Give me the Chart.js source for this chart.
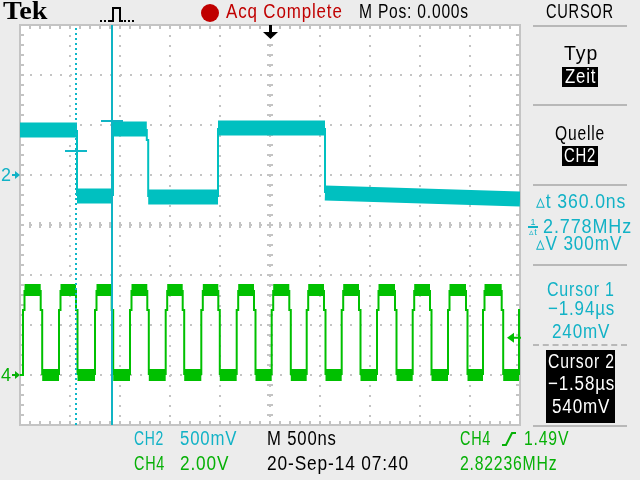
<!DOCTYPE html>
<html>
<head>
<meta charset="utf-8">
<script src="https://cdn.jsdelivr.net/npm/chart.js@4.4.0/dist/chart.umd.min.js"></script>
<style>
  body { margin: 0; background: #ececec; }
  #wrap { position: relative; width: 640px; height: 480px; overflow: hidden; background: #ececec; }
  #scope { position: absolute; left: 0; top: 0; }
  .t { position: absolute; white-space: nowrap; font-family: 'Liberation Sans', sans-serif;
       font-size: 20px; line-height: 20px; letter-spacing: 1px; }
  .cy { color: #12b2c6; }
  .gr { color: #06b006; }
  .rd { color: #c00000; }
  .wh { color: #fff; }
  .sep { position: absolute; left: 533px; width: 94px; height: 2px; background: #b8b8b8; }
  .box { position: absolute; background: #000; }
</style>
</head>
<body>
<div id="wrap">
  <canvas id="scope" width="640" height="480"></canvas>

  <!-- top bar -->
  <div class="t" style="left:3px;top:-2px;font-family:'Liberation Serif',serif;font-weight:bold;font-size:25px;line-height:25px;letter-spacing:0;" data-w="44">Tek</div>
  <svg style="position:absolute;left:98px;top:5px" width="40" height="20">
    <g fill="#000">
      <rect x="2" y="15" width="2" height="2"/><rect x="6" y="15" width="2" height="2"/><rect x="10" y="15" width="2" height="2"/>
      <rect x="26" y="15" width="2" height="2"/><rect x="30" y="15" width="2" height="2"/><rect x="34" y="15" width="2" height="2"/>
    </g>
    <polyline points="12,16 15,16 15,3 22,3 22,16 25,16" fill="none" stroke="#000" stroke-width="2"/>
  </svg>
  <div style="position:absolute;left:201px;top:4px;width:18px;height:18px;border-radius:50%;background:#c00000"></div>
  <div class="t rd" style="left:226px;top:1px" data-w="117">Acq Complete</div>
  <div class="t" style="left:359px;top:1px" data-w="110">M Pos: 0.000s</div>
  <div class="t" style="left:546px;top:1px" data-w="68">CURSOR</div>

  <!-- side menu -->
  <div class="sep" style="top:25px"></div>
  <div class="t" style="left:564px;top:43px" data-w="34">Typ</div>
  <div class="box" style="left:562px;top:67px;width:36px;height:20px"></div>
  <div class="t wh" style="left:565px;top:66px" data-w="31">Zeit</div>
  <div class="sep" style="top:104px"></div>
  <div class="t" style="left:555px;top:123px" data-w="50">Quelle</div>
  <div class="box" style="left:562px;top:146px;width:36px;height:20px"></div>
  <div class="t wh" style="left:564px;top:145px" data-w="32">CH2</div>
  <div class="sep" style="top:184px"></div>
  <div class="t cy" style="left:536px;top:191px" data-w="90">&#9653;t 360.0ns</div>
  <div style="position:absolute;left:527px;top:218px;width:12px;font-family:'Liberation Sans',sans-serif;font-size:9px;line-height:8px;text-align:center;color:#12b2c6">1<div style="border-top:2px solid #12b2c6;margin:0 1px"></div>&#9653;t</div>
  <div class="t cy" style="left:543px;top:216px" data-w="89">2.778MHz</div>
  <div class="t cy" style="left:536px;top:233px" data-w="86">&#9653;V 300mV</div>
  <div class="sep" style="top:264px"></div>
  <div class="t cy" style="left:547px;top:279px" data-w="68">Cursor 1</div>
  <div class="t cy" style="left:548px;top:298px" data-w="67">&minus;1.94&micro;s</div>
  <div class="t cy" style="left:552px;top:321px" data-w="58">240mV</div>
  <div class="sep" style="top:344px;background:none;border-top:2px dashed #b8b8b8;height:0"></div>
  <div class="box" style="left:546px;top:350px;width:69px;height:73px"></div>
  <div class="t wh" style="left:548px;top:351px" data-w="67">Cursor 2</div>
  <div class="t wh" style="left:548px;top:373px" data-w="67">&minus;1.58&micro;s</div>
  <div class="t wh" style="left:552px;top:396px" data-w="58">540mV</div>
  <div class="sep" style="top:425px"></div>

  <!-- bottom readout -->
  <div class="t cy" style="left:134px;top:428px" data-w="30">CH2</div>
  <div class="t cy" style="left:180px;top:428px" data-w="57">500mV</div>
  <div class="t" style="left:267px;top:428px" data-w="70">M 500ns</div>
  <div class="t gr" style="left:460px;top:428px" data-w="31">CH4</div>
  <svg style="position:absolute;left:501px;top:431px" width="16" height="16">
    <polyline points="1,14 5,14 11,2 15,2" fill="none" stroke="#06b006" stroke-width="2"/>
  </svg>
  <div class="t gr" style="left:524px;top:428px" data-w="45">1.49V</div>
  <div class="t gr" style="left:134px;top:453px" data-w="31">CH4</div>
  <div class="t gr" style="left:180px;top:453px" data-w="49">2.00V</div>
  <div class="t" style="left:267px;top:453px" data-w="142">20-Sep-14 07:40</div>
  <div class="t gr" style="left:460px;top:453px" data-w="97">2.82236MHz</div>
</div>

<script>
// time base 500 ns/div, trigger in the middle of the screen
var timeMin = -2500, timeMax = 2500, timePerDiv = 500;

// CH2 (500 mV/div): corner points of the trace, time in ns, volts
var ch2Time = [-2500, -1930, -1930, -1570, -1570, -1232, -1232, -1218, -1218, -520, -520, 550, 550, 2500];
var ch2Volt = [0.45, 0.45, -0.21, -0.21, 0.46, 0.46, 0.35, 0.35, -0.22, -0.22, 0.47, 0.47, -0.18, -0.24];

// CH4 (2 V/div): edge times of the clock (ns)
var ch4Rise = [-2470, -2110, -1750, -1400, -1043, -687, -333, 17, 367, 717, 1070, 1427, 1780, 2130, 2490];
var ch4Fall = [-2293, -1940, -1583, -1227, -873, -517, -160, 193, 540, 890, 1250, 1600, 1960, 2317];
var ch4HighV = 3.4, ch4LowV = 0.0, ch4KneeV = 2.6, ch4KneeNs = 15;

// cursors (on CH2)
var cursorTime = [-1940, -1580];
var cursorVolt = [0.24, 0.54];
var trigLevelV = 1.49;

var ch2Scale = 0.5, ch2Offset = 1;   // volts/div, ground position in divs
var ch4Scale = 2.0, ch4Offset = -3;

var cyan = '#00c0c0', green = '#00c000', gridGray = '#c4c4c4';

// squeeze the screen texts to the width they take on the scope
document.querySelectorAll('.t[data-w]').forEach(function (el) {
    el.style.transformOrigin = '0 0';
    el.style.transform = 'scaleX(' + (el.dataset.w / el.offsetWidth) + ')';
});

function ch2Div(v) { return ch2Offset + v / ch2Scale; }
function ch4Div(v) { return ch4Offset + v / ch4Scale; }

var ch2Points = ch2Time.map(function (t, i) { return { x: t, y: ch2Div(ch2Volt[i]) }; });

var ch4Points = [{ x: timeMin, y: ch4Div(ch4LowV) }];
ch4Rise.forEach(function (r, i) {
    ch4Points.push({ x: r, y: ch4Div(ch4LowV) }, { x: r, y: ch4Div(ch4KneeV) },
        { x: r + ch4KneeNs, y: ch4Div(ch4KneeV) }, { x: r + ch4KneeNs, y: ch4Div(ch4HighV) });
    if (i < ch4Fall.length) {
        var f = ch4Fall[i];
        ch4Points.push({ x: f, y: ch4Div(ch4HighV) }, { x: f, y: ch4Div(ch4KneeV) },
            { x: f + ch4KneeNs, y: ch4Div(ch4KneeV) }, { x: f + ch4KneeNs, y: ch4Div(ch4LowV) });
    }
});

// noisy flat parts get drawn as a thick band, edges stay thin
function bandWidth(w) {
    return function (ctx) { return ctx.p1.parsed.x - ctx.p0.parsed.x > 40 ? w : 2; };
}

var markHalf = 110; // ns, half length of the cursor level marks

var scopeDecor = {
    id: 'scopeDecor',
    beforeDraw: function (chart) {
        var a = chart.chartArea, ctx = chart.ctx;
        ctx.save();
        ctx.fillStyle = '#fff';
        ctx.fillRect(a.left, a.top, a.right - a.left, a.bottom - a.top);
        ctx.restore();
    },
    beforeDatasetsDraw: function (chart) {
        var a = chart.chartArea, ctx = chart.ctx, xs = chart.scales.x, ys = chart.scales.y;
        ctx.save();
        ctx.fillStyle = gridGray;
        var cx = xs.getPixelForValue(0), cy = ys.getPixelForValue(0);
        for (var t = timeMin; t <= timeMax; t += timePerDiv / 5) {
            var px = Math.round(xs.getPixelForValue(t));
            ctx.fillRect(px - 1, a.top, 2, 4);
            ctx.fillRect(px - 1, a.bottom - 4, 2, 4);
            ctx.fillRect(px - 1, cy - 3, 2, 6);
        }
        for (var d = -4; d <= 4.001; d += 0.2) {
            var py = Math.round(ys.getPixelForValue(d));
            ctx.fillRect(a.left, py - 1, 4, 2);
            ctx.fillRect(a.right - 4, py - 1, 4, 2);
            ctx.fillRect(cx - 3, py - 1, 6, 2);
        }
        ctx.strokeStyle = gridGray;
        ctx.lineWidth = 2;
        ctx.strokeRect(a.left, a.top, a.right - a.left, a.bottom - a.top);
        ctx.restore();
    },
    afterDraw: function (chart) {
        var a = chart.chartArea, ctx = chart.ctx, xs = chart.scales.x, ys = chart.scales.y;
        ctx.save();
        // channel ground markers
        ctx.font = '18px "Liberation Sans", sans-serif';
        ctx.textBaseline = 'middle';
        [['2', ys.getPixelForValue(ch2Div(0)), '#12b2c6'], ['4', ys.getPixelForValue(ch4Div(0)), '#06b006']].forEach(function (m) {
            ctx.fillStyle = m[2];
            ctx.fillText(m[0], 1, m[1] + 1);
            ctx.fillRect(12, m[1] - 1, 4, 2);
            ctx.beginPath();
            ctx.moveTo(15, m[1] - 4); ctx.lineTo(20, m[1]); ctx.lineTo(15, m[1] + 4);
            ctx.fill();
        });
        // trigger level (CH4)
        var ty = ys.getPixelForValue(ch4Div(trigLevelV));
        ctx.fillStyle = green;
        ctx.beginPath();
        ctx.moveTo(a.right - 13, ty); ctx.lineTo(a.right - 6, ty - 5); ctx.lineTo(a.right - 6, ty + 5);
        ctx.fill();
        ctx.fillRect(a.right - 7, ty - 1, 8, 2);
        // trigger position
        var tx = Math.round(xs.getPixelForValue(0));
        ctx.fillStyle = '#000';
        ctx.fillRect(tx - 1, a.top, 3, 8);
        ctx.beginPath();
        ctx.moveTo(tx - 7, a.top + 7); ctx.lineTo(tx + 8, a.top + 7); ctx.lineTo(tx + 0.5, a.top + 14);
        ctx.fill();
        ctx.restore();
    }
};

var ctx = document.getElementById('scope').getContext('2d');
var scopeChart = new Chart(ctx, {
    type: 'line',
    data: {
        datasets: [
            {
                label: 'Cursor 2',
                data: [{ x: cursorTime[1], y: -4 }, { x: cursorTime[1], y: 4 }],
                borderColor: '#10b4c4', borderWidth: 2
            },
            {
                label: 'Cursor 1',
                data: [{ x: cursorTime[0], y: -4 }, { x: cursorTime[0], y: 4 }],
                borderColor: '#10b8c8', borderWidth: 2, borderDash: [2, 3]
            },
            {
                label: 'Cursor 2 level',
                data: [{ x: cursorTime[1] - markHalf, y: ch2Div(cursorVolt[1]) }, { x: cursorTime[1] + markHalf, y: ch2Div(cursorVolt[1]) }],
                borderColor: '#10b4c4', borderWidth: 2
            },
            {
                label: 'Cursor 1 level',
                data: [{ x: cursorTime[0] - markHalf, y: ch2Div(cursorVolt[0]) }, { x: cursorTime[0] + markHalf, y: ch2Div(cursorVolt[0]) }],
                borderColor: '#10b8c8', borderWidth: 2
            },
            {
                label: 'CH2',
                data: ch2Points,
                borderColor: cyan, borderWidth: 2,
                segment: { borderWidth: bandWidth(15) }
            },
            {
                label: 'CH4',
                data: ch4Points,
                borderColor: green, borderWidth: 2,
                segment: { borderWidth: bandWidth(12) }
            }
        ]
    },
    options: {
        responsive: false,
        animation: false,
        devicePixelRatio: 1,
        layout: { padding: { left: 20, top: 25, right: 120, bottom: 55 } },
        elements: { point: { radius: 0 }, line: { tension: 0 } },
        plugins: { legend: { display: false }, tooltip: { enabled: false } },
        scales: {
            x: {
                type: 'linear', min: timeMin, max: timeMax,
                ticks: { display: false, stepSize: timePerDiv },
                grid: { color: gridGray, lineWidth: 2, drawTicks: false },
                border: { display: false, dash: [2, 8] }
            },
            y: {
                type: 'linear', min: -4, max: 4,
                ticks: { display: false, stepSize: 1 },
                grid: { color: gridGray, lineWidth: 2, drawTicks: false },
                border: { display: false, dash: [2, 8] }
            }
        }
    },
    plugins: [scopeDecor]
});
</script>
</body>
</html>
